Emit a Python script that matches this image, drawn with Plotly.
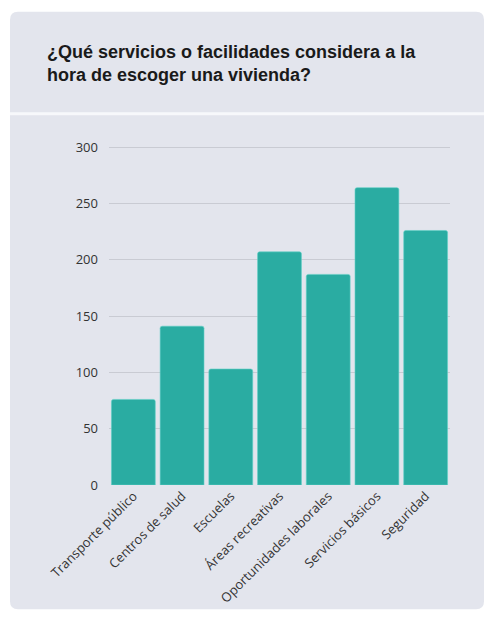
import plotly.graph_objects as go

categories = [
    "Transporte público",
    "Centros de salud",
    "Escuelas",
    "Áreas recreativas",
    "Oportunidades laborales",
    "Servicios básicos",
    "Seguridad",
]
values = [76, 141, 103, 207, 187, 264, 226]
y_ticks = [0, 50, 100, 150, 200, 250, 300]

title_text = "<b>¿Qué servicios o facilidades considera a la<br>hora de escoger una vivienda?</b>"

W, H = 487, 618
BG = "#e3e5ed"
TEAL = "#2aaca2"

# plot area occupies pixels x 109..450, y 147..487
L, R, T, B = 109, W - 450, 146, H - 487
PW, PH = W - L - R, H - T - B


def px(x):
    return (x - L) / PW


def py(y):
    return (H - B - y) / PH


def rounded_rect(x0, y0, x1, y1, r):
    return (
        f"M {px(x0 + r)} {py(y0)} L {px(x1 - r)} {py(y0)} "
        f"Q {px(x1)} {py(y0)} {px(x1)} {py(y0 + r)} "
        f"L {px(x1)} {py(y1 - r)} Q {px(x1)} {py(y1)} {px(x1 - r)} {py(y1)} "
        f"L {px(x0 + r)} {py(y1)} Q {px(x0)} {py(y1)} {px(x0)} {py(y1 - r)} "
        f"L {px(x0)} {py(y0 + r)} Q {px(x0)} {py(y0)} {px(x0 + r)} {py(y0)} Z"
    )


fig = go.Figure(
    go.Bar(
        x=categories,
        y=values,
        marker=dict(color=TEAL, line=dict(color="#5fd0c6", width=0.6), cornerradius=2),
        hoverinfo="x+y",
    )
)

shapes = [
    # card background
    dict(type="path", xref="paper", yref="paper", path=rounded_rect(10, 11, 484, 612, 8),
         fillcolor=BG, line=dict(width=0), layer="below"),
    # separator between header and chart body
    dict(type="rect", xref="paper", yref="paper",
         x0=px(10), x1=px(484), y0=py(115), y1=py(112),
         fillcolor="#f7f8fb", line=dict(width=0), layer="below"),
]

fig.update_layout(
    width=W,
    height=H,
    margin=dict(l=L, r=R, t=T, b=B),
    paper_bgcolor="white",
    plot_bgcolor=BG,
    shapes=shapes,
    bargap=0.1,
    showlegend=False,
    font=dict(family="Open Sans, sans-serif", color="#333333"),
    annotations=[
        dict(
            text=title_text,
            xref="paper", yref="paper",
            x=px(45), y=py(39),
            xanchor="left", yanchor="top", align="left", showarrow=False,
            font=dict(family="Liberation Sans, Arial, sans-serif", size=18, color="#1a1a1a"),
        )
    ],
    xaxis=dict(
        tickangle=-45,
        tickfont=dict(size=13, color="#333333"),
        showgrid=False,
        showline=False,
        zeroline=False,
        ticks="",
    ),
    yaxis=dict(
        range=[0, 301],
        tickvals=y_ticks,
        tickfont=dict(size=13, color="#333333"),
        gridcolor="#c9cbd3",
        gridwidth=1,
        zeroline=False,
        showline=False,
        ticks="",
        ticklabelstandoff=10,
    ),
)

fig.write_html("out.html")
